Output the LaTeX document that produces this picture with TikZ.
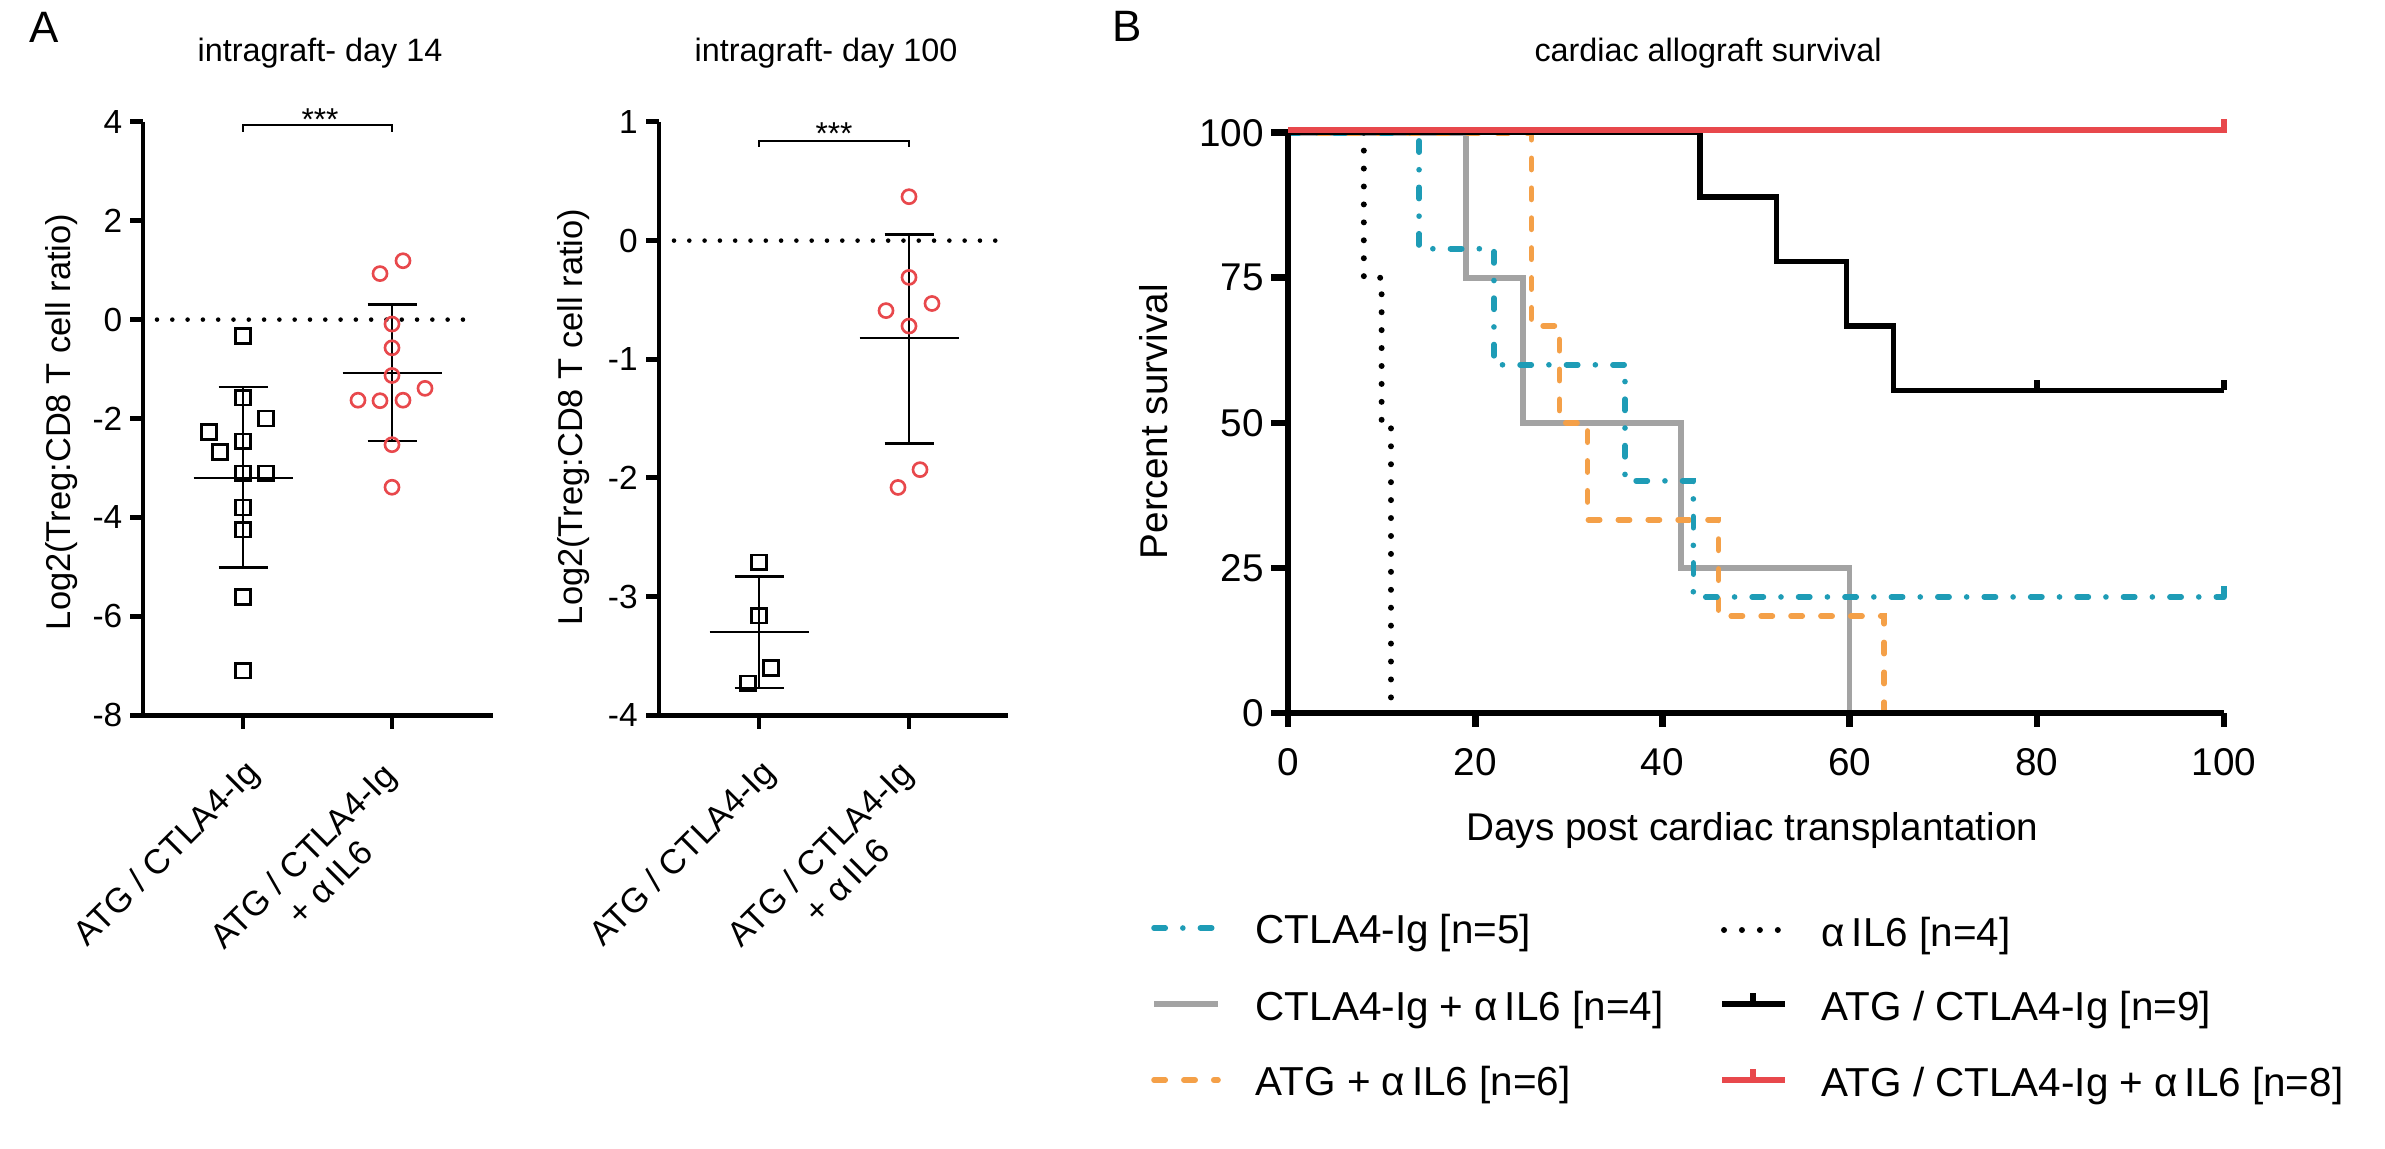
\documentclass[tikz,border=0pt]{standalone}
\usepackage{fontspec}
\setmainfont{Liberation Sans}
\usetikzlibrary{positioning}

\definecolor{ctlablue}{RGB}{30,156,182}
\definecolor{atgorange}{RGB}{244,160,72}
\definecolor{mixgray}{RGB}{163,163,163}
\definecolor{ratiored}{RGB}{232,72,76}

\tikzset{
  panel/.style={font=\fontsize{12.5}{14}\selectfont, inner sep=0pt},
  plottitle/.style={font=\fontsize{9.2}{11}\selectfont, inner sep=0pt, anchor=base},
  axisA/.style={line width=1.4pt},
  axisB/.style={line width=1.9pt},
  ticklabA/.style={font=\fontsize{9.5}{11}\selectfont, inner sep=0pt, anchor=east},
  ticklabB/.style={font=\fontsize{11}{13}\selectfont, inner sep=0pt},
  ylabA/.style={font=\fontsize{9.8}{11}\selectfont, rotate=90, inner sep=0pt},
  xlabA/.style={font=\fontsize{9.8}{10.8}\selectfont, rotate=45, anchor=east, align=center, inner sep=0pt},
  axlabB/.style={font=\fontsize{11}{13}\selectfont, inner sep=0pt},
  sqmark/.style={line width=0.75pt},
  circmark/.style={draw=ratiored, line width=0.75pt},
  errbar/.style={line width=0.7pt},
  zeroline/.style={line width=1.3pt, dash pattern=on 0pt off 4.35pt, line cap=round},
  sigbar/.style={line width=0.6pt},
  stars/.style={font=\fontsize{9}{11}\selectfont, inner sep=0pt, anchor=base},
  ctlacurve/.style={ctlablue, line width=1.6pt, line cap=round, dash pattern=on 3.2pt off 5pt on 0pt off 5pt},
  mixcurve/.style={mixgray, line width=1.6pt},
  atgcurve/.style={atgorange, line width=1.6pt, line cap=round, dash pattern=on 3.2pt off 5.3pt},
  il6curve/.style={black, line width=1.7pt, line cap=round, dash pattern=on 0pt off 5.1pt},
  dualcurve/.style={black, line width=1.5pt},
  triplecurve/.style={ratiored, line width=1.7pt},
  legtext/.style={font=\fontsize{11.5}{13}\selectfont, inner sep=0pt, anchor=base west},
}

\begin{document}
\begin{tikzpicture}[x=0.01cm, y=-0.01cm]
  \useasboundingbox (0,0) rectangle (2385,1148);

  % Panel letters and titles
  \node[panel] (letA) at (44,27) {A};
  \node[panel] (letB) at (1127,26) {B};
  \node[plottitle] (title14) at (320,61) {intragraft- day 14};
  \node[plottitle] (title100) at (826,61) {intragraft- day 100};
  \node[plottitle] (titleB) at (1708,61) {cardiac allograft survival};

  % Day 14 (x in pixels, y in log2 units)
  \begin{scope}[shift={(0,319.6)}, y=0.4942cm]
    \draw[axisA] (143,4) -- (143,-8) -- (492.7,-8);
    \foreach \v [count=\k] in {4,2,0,-2,-4,-6,-8} {
      \draw[axisA] (143,\v) -- ++(-3.8pt,0);
      \node[ticklabA] (ya\k) at (123,\v) {\v};
    }
    \foreach \x in {243,392}
      \draw[axisA] (\x,-8) -- ++(0,-4pt);
    \draw[zeroline] (157,0) -- (478,0);

    % Data
    \foreach \x/\m/\hi/\lo in {243/-3.2/-1.36/-5.01, 392/-1.08/0.31/-2.46} {
      \draw[errbar] (\x,\hi) -- (\x,\lo);
      \draw[errbar] (\x-49.5,\m) -- (\x+49.5,\m);
      \draw[errbar] (\x-24.5,\hi) -- (\x+24.5,\hi);
      \draw[errbar] (\x-24.5,\lo) -- (\x+24.5,\lo);
    }
    \foreach \x/\v in {243/-0.33, 243/-1.58, 266/-2.0, 209/-2.27, 243/-2.46, 220/-2.68,
                       243/-3.11, 266/-3.11, 243/-3.8, 243/-4.25, 243/-5.61, 243/-7.1}
      \draw[sqmark] (\x,\v) +(-2.1pt,-2.1pt) rectangle +(2.1pt,2.1pt);
    \foreach \x/\v in {403/1.19, 380/0.93, 392/-0.09, 392/-0.57, 392/-1.13, 358/-1.63,
                       380/-1.64, 403/-1.63, 425/-1.39, 392/-2.53, 392/-3.39}
      \draw[circmark] (\x,\v) circle (2pt);

    % Significance
    \draw[sigbar] (243,3.80) -- (243,3.94) -- (392,3.94) -- (392,3.80);
    \node[stars] (sig14) at (320,3.82) {***};
  \end{scope}

  % Day 100
  \begin{scope}[shift={(0,240.6)}, y=1.186cm]
    \draw[axisA] (659,1) -- (659,-4) -- (1008,-4);
    \foreach \v [count=\k] in {1,0,-1,-2,-3,-4} {
      \draw[axisA] (659,\v) -- ++(-3.8pt,0);
      \node[ticklabA] (yb\k) at (638.4,\v) {\v};
    }
    \foreach \x in {759,909}
      \draw[axisA] (\x,-4) -- ++(0,-4pt);
    \draw[zeroline] (674,0) -- (996,0);

    % Data
    \foreach \x/\m/\hi/\lo in {759/-3.30/-2.83/-3.77, 909/-0.82/0.05/-1.71} {
      \draw[errbar] (\x,\hi) -- (\x,\lo);
      \draw[errbar] (\x-49.5,\m) -- (\x+49.5,\m);
      \draw[errbar] (\x-24.5,\hi) -- (\x+24.5,\hi);
      \draw[errbar] (\x-24.5,\lo) -- (\x+24.5,\lo);
    }
    \foreach \x/\v in {759/-2.71, 759/-3.16, 771/-3.6, 748/-3.73}
      \draw[sqmark] (\x,\v) +(-2.1pt,-2.1pt) rectangle +(2.1pt,2.1pt);
    \foreach \x/\v in {909/0.37, 909/-0.31, 932/-0.53, 886/-0.59, 909/-0.72, 920/-1.93, 898/-2.08}
      \draw[circmark] (\x,\v) circle (2pt);

    % Significance
    \draw[sigbar] (759,0.79) -- (759,0.84) -- (909,0.84) -- (909,0.79);
    \node[stars] (sig100) at (834,0.81) {***};
  \end{scope}

  % Axis labels of panel A
  \node[ylabA] (ylab14) at (62,422) {Log2(Treg:CD8 T cell ratio)};
  \node[ylabA] (ylab100) at (574,417) {Log2(Treg:CD8 T cell ratio)};
  \node[xlabA] (grp14a) at (255,768) {ATG / CTLA4-Ig};
  \node[xlabA] (grp14b) at (403,782) {ATG / CTLA4-Ig\\+ α\,IL6};
  \node[xlabA] (grp100a) at (771,768) {ATG / CTLA4-Ig};
  \node[xlabA] (grp100b) at (920,780) {ATG / CTLA4-Ig\\+ α\,IL6};

  % Survival curves (x in days, y in percent)
  \begin{scope}[shift={(1288,713)}, x=0.09355cm, y=0.058cm]
    \draw[mixcurve] (0,100) -| (19,75) -| (25.1,50) -| (42,25) -| (60,0);
    \draw[atgcurve] (0,100) -| (26,66.7) -| (29,50) -| (32,33.3) -| (46,16.7) -| (63.7,0);
    \draw[ctlacurve] (0,100) -| (14,80) -| (22,60) -| (36,40) -| (43.3,20) -- (100,20);
    \draw[ctlablue, line width=1.6pt] (100,20) -- ++(0,3pt);
    \draw[il6curve] (8.1,100) -- (8.1,75) -| (10,50) -| (11,0);
    \draw[dualcurve] (0,100) -| (44,88.9) -| (52.2,77.8) -| (59.7,66.7) -| (64.7,55.6) -- (100,55.6);
    \foreach \d in {80,100}
      \draw[dualcurve] (\d,55.6) -- ++(0,3pt);

    % Axes
    \draw[axisB] (0,100) -- (0,0) -- (100,0);
    \foreach \p [count=\k] in {0,25,50,75,100} {
      \draw[axisB] (0,\p) -- ++(-4.8pt,0);
      \node[ticklabB, anchor=east] (pct\k) at (-2.5,\p) {\p};
    }
    \foreach \d [count=\k] in {0,20,...,100} {
      \draw[axisB] (\d,0) -- ++(0,-4pt);
      \node[ticklabB] (day\k) at (\d,-8.45) {\d};
    }
    \draw[triplecurve] (0,100) ++(0,0.9pt) -- ++(100,0) -- ++(0,3pt);

    \node[axlabB, rotate=90] (ylabB) at (-14.3,50.2) {Percent survival};
    \node[axlabB, anchor=base] (xlabB) at (49.6,-21.9) {Days post cardiac transplantation};
  \end{scope}

  % Legend
  \draw[ctlacurve] (1154,928) -- (1218,928);
  \node[legtext] (leg1) at (1255,943) {CTLA4-Ig [n=5]};
  \draw[mixcurve] (1154,1004) -- (1218,1004);
  \node[legtext] (leg2) at (1255,1020) {CTLA4-Ig + α\,IL6 [n=4]};
  \draw[atgcurve] (1154,1080) -- (1218,1080);
  \node[legtext] (leg3) at (1255,1095) {ATG + α\,IL6 [n=6]};
  \draw[il6curve] (1724,930) -- (1780,930);
  \node[legtext] (leg4) at (1821,946) {α\,IL6 [n=4]};
  \draw[dualcurve] (1722,1004) -- (1785,1004);
  \draw[dualcurve] (1753,1004) -- ++(0,3pt);
  \node[legtext] (leg5) at (1821,1020) {ATG / CTLA4-Ig [n=9]};
  \draw[triplecurve] (1722,1080) -- (1785,1080);
  \draw[triplecurve] (1753,1080) -- ++(0,3pt);
  \node[legtext] (leg6) at (1821,1096) {ATG / CTLA4-Ig + α\,IL6 [n=8]};
\end{tikzpicture}
\end{document}
